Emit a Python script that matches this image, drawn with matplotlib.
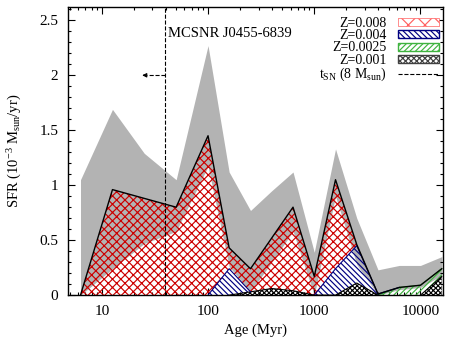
import matplotlib
matplotlib.use("Agg")
import matplotlib.pyplot as plt
from matplotlib.patches import Patch
from matplotlib.lines import Line2D
from matplotlib.ticker import LogLocator, MultipleLocator, NullFormatter, FixedLocator, FixedFormatter
import numpy as np

plt.rcParams['font.family'] = ['Liberation Serif', 'DejaVu Serif']
plt.rcParams['mathtext.fontset'] = 'custom'
plt.rcParams['mathtext.rm'] = 'Liberation Serif'
plt.rcParams['mathtext.it'] = 'Liberation Serif:italic'
plt.rcParams['hatch.linewidth'] = 0.85

# bin ages (Myr)
age = [6.3, 12.6, 25.1, 50.1, 100, 158, 251, 398, 631, 1000,
       1585, 2512, 3981, 6310, 10000, 15849]

# SFR components per metallicity (1e-3 Msun/yr)
z008 = [0.0, 0.96, 0.88, 0.80, 1.45, 0.19, 0.21, 0.46, 0.76, 0.17,
        0.81, 0.01, 0.0, 0.0, 0.0, 0.0]
z004 = [0.0, 0.0, 0.0, 0.0, 0.0, 0.24, 0.0, 0.0, 0.0, 0.0,
        0.24, 0.34, 0.01, 0.0, 0.0, 0.0]
z0025 = [0.0, 0.0, 0.0, 0.0, 0.0, 0.0, 0.0, 0.0, 0.0, 0.0,
         0.0, 0.0, 0.0, 0.07, 0.09, 0.07]
z001 = [0.0, 0.0, 0.0, 0.0, 0.0, 0.0, 0.03, 0.06, 0.04, 0.0,
        0.0, 0.11, 0.0, 0.0, 0.0, 0.17]

# error envelope of the total SFR
sfr_hi = [1.05, 1.69, 1.29, 1.05, 2.27, 1.12, 0.77, 0.95, 1.12, 0.39,
          1.33, 0.70, 0.23, 0.27, 0.27, 0.35]
sfr_lo = [0.0, 0.24, 0.47, 0.58, 1.17, 0.26, 0.03, 0.30, 0.58, 0.0,
          0.90, 0.28, 0.0, 0.05, 0.07, 0.18]

t_sn = 39.0
arrow_to = 24.0


def outline(ax, comp, top, color):
    # draw the upper edge of a layer only where that layer is present
    p = np.array(comp) > 0
    show = p | np.roll(p, 1) | np.roll(p, -1)
    ax.plot(age, np.ma.masked_where(~show, top), color=color, lw=0.8, zorder=2.5)


fig = plt.figure(figsize=(4.53, 3.40), dpi=100)
ax = fig.add_axes([0.150, 0.132, 0.828, 0.847])

ax.fill_between(age, 0, sfr_hi, color='#b3b3b3', lw=0, zorder=1)
ax.fill_between(age, 0, sfr_lo, color='white', lw=0, zorder=1.1)

c1 = np.array(z001)
c2 = c1 + np.array(z0025)
c3 = c2 + np.array(z004)
c4 = c3 + np.array(z008)

ax.fill_between(age, 0, c1, facecolor='none', edgecolor='black', hatch='xxxxxxx', lw=0, zorder=2)
ax.fill_between(age, c1, c2, facecolor='none', edgecolor='#3fb33f', hatch='//////', lw=0, zorder=2)
ax.fill_between(age, c2, c3, facecolor='none', edgecolor='#000080', hatch='\\' * 6, lw=0, zorder=2)
ax.fill_between(age, c3, c4, facecolor='none', edgecolor='#cc0000', hatch='xxxx', lw=0, zorder=2)
outline(ax, z001, c1, 'black')
outline(ax, z0025, c2, '#3fb33f')
outline(ax, z004, c3, '#000080')
ax.plot(age, c4, color='black', lw=1.0, zorder=3)

ax.axvline(t_sn, color='black', ls='--', lw=0.8, zorder=4)
ax.plot([t_sn, arrow_to * 1.12], [2.0, 2.0], color='black', ls='--', lw=0.8, zorder=4)
ax.annotate('', xy=(arrow_to, 2.0), xytext=(arrow_to * 1.12, 2.0),
            arrowprops=dict(arrowstyle='-|>', color='black', lw=0.8, mutation_scale=6), zorder=4)
ax.text(t_sn * 1.07, 2.38, 'MCSNR J0455-6839', fontsize=10.5, ha='left', va='center', zorder=5)

ax.set_xscale('log')
ax.set_xlim(4.8, 16300)
ax.set_ylim(0, 2.62)
ax.xaxis.set_major_locator(FixedLocator([10, 100, 1000, 10000]))
ax.xaxis.set_major_formatter(FixedFormatter(['10', '100', '1000', '10000']))
ax.xaxis.set_minor_locator(LogLocator(base=10, subs=np.arange(2, 10), numticks=20))
ax.xaxis.set_minor_formatter(NullFormatter())
ax.yaxis.set_major_locator(FixedLocator([0, 0.5, 1, 1.5, 2, 2.5]))
ax.yaxis.set_major_formatter(FixedFormatter(['0', '0.5', '1', '1.5', '2', '2.5']))
ax.yaxis.set_minor_locator(MultipleLocator(0.1))
ax.tick_params(which='both', direction='in', top=True, right=True, labelsize=11, width=0.8)
ax.tick_params(which='major', length=5, pad=7)
ax.tick_params(which='minor', length=2.5)
for s in ax.spines.values():
    s.set_linewidth(1.0)
    s.set_zorder(6)

ax.set_xlabel('Age (Myr)', fontsize=10.5, labelpad=4)
ax.set_ylabel(r'SFR (10$^{-3}$ M$_{\mathrm{sun}}$/yr)', fontsize=10.5, labelpad=11)

handles = [
    Patch(facecolor='white', edgecolor='#ff6060', hatch='xx', lw=0.5),
    Patch(facecolor='white', edgecolor='#000080', hatch='\\' * 6),
    Patch(facecolor='white', edgecolor='#3fb33f', hatch='//////'),
    Patch(facecolor='white', edgecolor='#404040', hatch='xxxxxx'),
    Line2D([0], [0], color='black', ls='--', lw=0.8),
]
labels = ['Z=0.008', 'Z=0.004', 'Z=0.0025', 'Z=0.001', r't$_{\mathrm{SN}}$ (8 M$_{\mathrm{sun}}$)']
leg = ax.legend(handles, labels, loc='upper right', markerfirst=False, frameon=False,
                fontsize=10, handlelength=3.0, handleheight=0.5, labelspacing=-0.05,
                handletextpad=0.8, borderaxespad=0.3, bbox_to_anchor=(1.016, 1.0))
for t in leg.get_texts():
    t.set_ha('right')
leg.set_zorder(7)

fig.savefig('out.png', dpi=100)
